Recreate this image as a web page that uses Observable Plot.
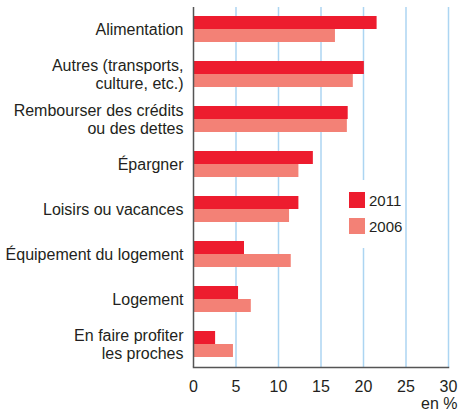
<!DOCTYPE html>
<html>
<head>
<meta charset="utf-8">
<script src="https://cdn.jsdelivr.net/npm/d3@7"></script>
<script src="https://cdn.jsdelivr.net/npm/@observablehq/plot@0.6"></script>
<style>
  body { margin: 0; background: white; }
  #wrap { position: relative; width: 458px; height: 417px; font-family: "Liberation Sans", Arial, sans-serif; color: #231f20; }
  #legend { position: absolute; left: 343px; top: 180px; width: 60px; height: 68px; background: white; }
  .item { position: absolute; left: 6px; height: 16px; display: flex; align-items: center; font-size: 15px; }
  .sw { width: 16px; height: 16px; margin-right: 4px; }
</style>
</head>
<body>
<div id="wrap"></div>
<script>
const categories = [
  "Alimentation",
  "Autres (transports,\nculture, etc.)",
  "Rembourser des crédits\nou des dettes",
  "Épargner",
  "Loisirs ou vacances",
  "Équipement du logement",
  "Logement",
  "En faire profiter\nles proches"
];
const values2011 = [21.6, 20.1, 18.2, 14.1, 12.4, 6.0, 5.3, 2.6];
const values2006 = [16.7, 18.8, 18.1, 12.4, 11.3, 11.5, 6.8, 4.7];
const years = ["2011", "2006"];
const xTicks = [0, 5, 10, 15, 20, 25, 30];
const colors = {"2011": "#ed1c2e", "2006": "#f38176"};

const data2011 = categories.map((c, i) => ({cat: c, value: values2011[i]}));
const data2006 = categories.map((c, i) => ({cat: c, value: values2006[i]}));

const chart = Plot.plot({
  width: 458,
  height: 417,
  marginLeft: 193,
  marginRight: 10,
  marginTop: 7,
  marginBottom: 50,
  style: {fontFamily: "'Liberation Sans', Arial, sans-serif", fontSize: "16px", color: "#231f20", background: "white"},
  x: {domain: [0, 30], ticks: xTicks},
  y: {domain: categories, paddingInner: 0.4222, paddingOuter: 0.2},
  marks: [
    Plot.ruleX(xTicks.slice(1), {stroke: "#acd5f2", strokeWidth: 1.5}),
    Plot.barX(data2011, {x: "value", y: "cat", fill: colors["2011"], insetBottom: 13}),
    Plot.barX(data2006, {x: "value", y: "cat", fill: colors["2006"], insetTop: 13}),
    Plot.ruleX([0], {stroke: "#555", strokeWidth: 1.5}),
    Plot.frame({anchor: "bottom", stroke: "#555", strokeWidth: 1.5}),
    Plot.axisX({ticks: xTicks, tickSize: 0, tickPadding: 13, label: null}),
    Plot.axisY({tickSize: 0, tickPadding: 10, label: null, lineHeight: 1.1}),
    Plot.text(["en %"], {frameAnchor: "bottom-right", dy: 41, dx: 9, textAnchor: "end", fontSize: 16})
  ]
});

const wrap = document.getElementById("wrap");
wrap.appendChild(chart);
const legend = document.createElement("div");
legend.id = "legend";
years.forEach((yr, i) => {
  const item = document.createElement("div");
  item.className = "item";
  item.style.top = (12 + i * 26) + "px";
  const sw = document.createElement("div");
  sw.className = "sw";
  sw.style.background = colors[yr];
  const t = document.createElement("span");
  t.textContent = yr;
  item.appendChild(sw);
  item.appendChild(t);
  legend.appendChild(item);
});
wrap.appendChild(legend);
</script>
</body>
</html>
